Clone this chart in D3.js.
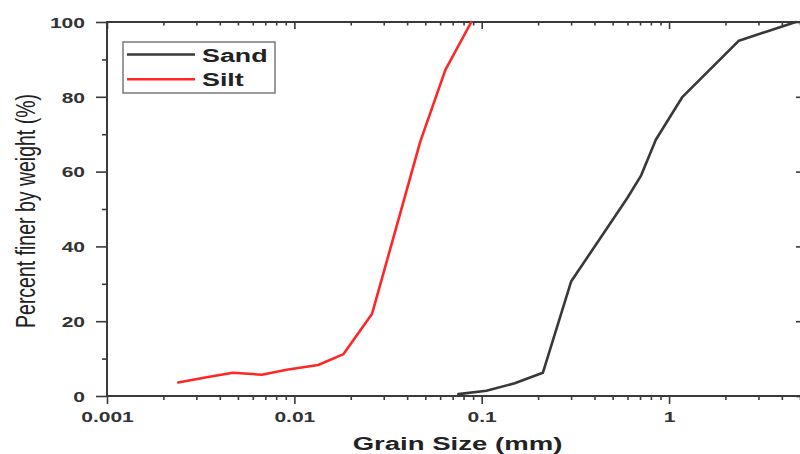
<!DOCTYPE html>
<html>
<head>
<meta charset="utf-8">
<script src="https://cdn.jsdelivr.net/npm/d3@7"></script>
<style>
  html, body { margin: 0; padding: 0; background: #fff; }
  svg { display: block; font-family: "Liberation Sans", Arial, sans-serif; }
</style>
</head>
<body>
<svg id="chart" width="800" height="454"></svg>
<script>
// Grain size distribution (sieve + hydrometer)
const sandSize  = [0.075, 0.106, 0.15, 0.212, 0.3, 0.6, 0.71, 0.85, 1.18, 2.36, 4.75];
const sandFiner = [0.5, 1.4, 3.4, 6.2, 30.6, 53, 59, 68.5, 80, 95, 100];

const siltSize  = [0.0024, 0.0034, 0.0047, 0.0067, 0.0091, 0.0134, 0.0183, 0.026, 0.047, 0.064, 0.088];
const siltFiner = [3.6, 5.0, 6.2, 5.7, 7.0, 8.3, 11.2, 22, 68, 87.2, 100];

const seriesNames  = ["Sand", "Silt"];
const seriesColors = ["#383838", "#ff2626"];

const sizeDomain  = [0.001, 5];
const finerDomain = [0, 100];
const xMajorTicks = [0.001, 0.01, 0.1, 1];
const xTickLabels = ["0.001", "0.01", "0.1", "1"];
const yMajorTicks = [0, 20, 40, 60, 80, 100];
const yTickLabels = ["0", "20", "40", "60", "80", "100"];

const xTitle = "Grain Size (mm)";
const yTitle = "Percent finer by weight (%)";

// ---------------------------------------------------------------
const STRETCH = 1.45;          // horizontal text widening
const AXIS = "#3a3a3a";
const plot = { left: 107, right: 800, top: 22, bottom: 396 };

const svg = d3.select("#chart");

const x = d3.scaleLog().domain(sizeDomain).range([plot.left, plot.right]);
const y = d3.scaleLinear().domain(finerDomain).range([plot.bottom, plot.top]);

const xMinor = x.ticks().filter(v => !xMajorTicks.some(m => Math.abs(m - v) / m < 1e-9));
const yMinor = y.ticks(10).filter(v => !yMajorTicks.includes(v));

function styleAxis(g) {
  g.select(".domain").remove();
  g.selectAll(".tick line").attr("stroke", AXIS).attr("stroke-width", 1.6);
}

// bottom axis
svg.append("g").attr("transform", `translate(0,${plot.bottom})`)
  .call(d3.axisBottom(x).tickValues(xMinor).tickSize(4).tickFormat(""))
  .call(styleAxis);
const xAxisG = svg.append("g").attr("transform", `translate(0,${plot.bottom})`)
  .call(d3.axisBottom(x).tickValues(xMajorTicks).tickSize(8)
        .tickFormat((d, i) => xTickLabels[i]))
  .call(styleAxis);
xAxisG.selectAll(".tick text")
  .attr("y", 16).attr("dy", "0.71em")
  .attr("transform", `scale(${STRETCH},1)`)
  .attr("fill", "#333").attr("font-size", 14.5).attr("font-weight", "bold")
  .attr("font-family", "Liberation Sans, Arial, sans-serif");

// top axis (inward ticks)
svg.append("g").attr("transform", `translate(0,${plot.top})`)
  .call(d3.axisTop(x).tickValues(xMinor).tickSize(-3.5).tickFormat(""))
  .call(styleAxis);
svg.append("g").attr("transform", `translate(0,${plot.top})`)
  .call(d3.axisTop(x).tickValues(xMajorTicks).tickSize(-7).tickFormat(""))
  .call(styleAxis);

// left axis
svg.append("g").attr("transform", `translate(${plot.left},0)`)
  .call(d3.axisLeft(y).tickValues(yMinor).tickSize(5).tickFormat(""))
  .call(styleAxis);
const yAxisG = svg.append("g").attr("transform", `translate(${plot.left},0)`)
  .call(d3.axisLeft(y).tickValues(yMajorTicks).tickSize(11)
        .tickFormat((d, i) => yTickLabels[i]))
  .call(styleAxis);
yAxisG.selectAll(".tick text")
  .attr("x", -22 / STRETCH).attr("dy", "0.36em")
  .attr("transform", `scale(${STRETCH},1)`)
  .attr("fill", "#333").attr("font-size", 14.5).attr("font-weight", "bold")
  .attr("font-family", "Liberation Sans, Arial, sans-serif");

// right axis (inward ticks)
svg.append("g").attr("transform", `translate(${plot.right + 1},0)`)
  .call(d3.axisRight(y).tickValues(yMajorTicks).tickSize(-5).tickFormat(""))
  .call(styleAxis);

// frame
svg.append("rect")
  .attr("x", plot.left).attr("y", plot.top)
  .attr("width", plot.right + 1 - plot.left).attr("height", plot.bottom - plot.top)
  .attr("fill", "none").attr("stroke", AXIS).attr("stroke-width", 2);

// curves
const line = d3.line().x(d => x(d[0])).y(d => y(d[1]));
const series = [
  d3.zip(sandSize, sandFiner),
  d3.zip(siltSize, siltFiner)
];
series.forEach((pts, i) => {
  svg.append("path").datum(pts)
    .attr("d", line)
    .attr("fill", "none")
    .attr("stroke", seriesColors[i])
    .attr("stroke-width", 2.6)
    .attr("stroke-linejoin", "round")
    .attr("stroke-linecap", "round");
});

// legend
const lg = svg.append("g");
lg.append("rect")
  .attr("x", 123).attr("y", 42).attr("width", 152).attr("height", 51)
  .attr("fill", "#fff").attr("stroke", "#7a7a7a").attr("stroke-width", 1.5);
seriesNames.forEach((name, i) => {
  const yy = 54.5 + i * 24.8;
  lg.append("line")
    .attr("x1", 127).attr("x2", 195).attr("y1", yy).attr("y2", yy)
    .attr("stroke", seriesColors[i]).attr("stroke-width", 2.6);
  lg.append("text")
    .attr("transform", `translate(202,${yy + 7}) scale(${STRETCH},1)`)
    .attr("font-size", 18.5).attr("font-weight", "bold").attr("fill", "#222")
    .text(name);
});

// axis titles
svg.append("text")
  .attr("transform", `translate(457.5,450) scale(${STRETCH},1)`)
  .attr("text-anchor", "middle").attr("font-size", 19).attr("font-weight", "bold")
  .attr("fill", "#222")
  .text(xTitle);

svg.append("text")
  .attr("transform", `translate(35,211) scale(${STRETCH},1) rotate(-90)`)
  .attr("text-anchor", "middle").attr("font-size", 19.5).attr("fill", "#222")
  .text(yTitle);
</script>
</body>
</html>
